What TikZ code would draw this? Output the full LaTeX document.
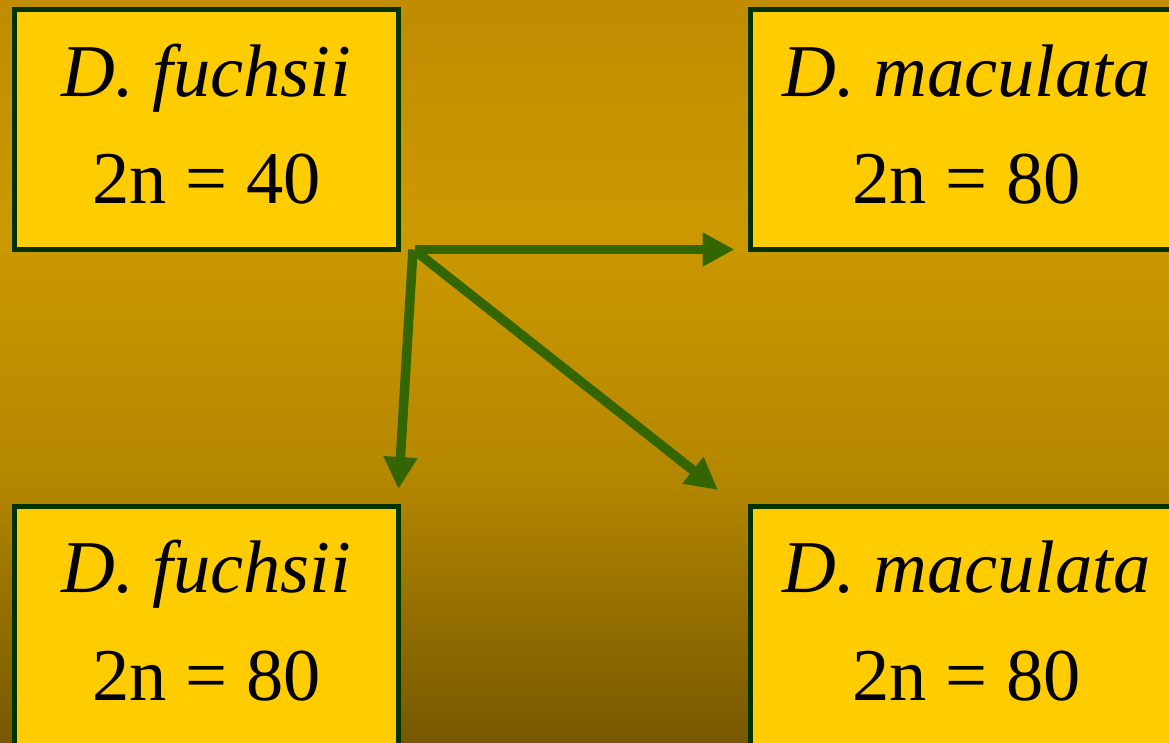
\documentclass[tikz,border=0pt]{standalone}
\usepackage{fontspec}
\setmainfont{Liberation Serif}
\usetikzlibrary{arrows.meta}
\definecolor{boxfill}{HTML}{FFCC00}
\definecolor{boxline}{HTML}{003300}
\definecolor{arrowgreen}{HTML}{336600}
\definecolor{bgtop}{HTML}{C08C00}
\definecolor{bglight}{HTML}{CC9900}
\definecolor{bgmid}{HTML}{B48700}
\definecolor{bgbottom}{HTML}{765800}
\tikzset{
  species/.style={draw=boxline, line width=5pt, fill=boxfill,
    minimum width=384pt, minimum height=240pt, inner sep=0pt, outer sep=0pt},
  widebox/.style={species, minimum width=432pt},
  lbl/.style={anchor=base, inner sep=0pt, font=\fontsize{74.5}{90}\selectfont},
  link/.style={draw=arrowgreen, line width=9.5pt,
    -{Triangle[length=32pt,width=32pt]}}
}
\begin{document}
\begin{tikzpicture}[x=1pt, y=-1pt]
  \useasboundingbox (0,0) rectangle (1169,742);
  \clip (0,0) rectangle (1169,742);
  % background gradient
  \shade[top color=bgtop, bottom color=bglight] (0,0) rectangle (1169,230);
  \shade[top color=bglight, bottom color=bgmid] (0,229.5) rectangle (1169,480);
  \shade[top color=bgmid, bottom color=bgbottom] (0,479.5) rectangle (1169,742);

  % species boxes
  \node[species] (b1) at (206.5,129.5) {};
  \node[widebox] (b2) at (966.5,129.5) {};
  \node[species] (b3) at (206.5,626.5) {};
  \node[widebox] (b4) at (966.5,626.5) {};

  % labels
  \node[lbl] (b1a) at ([yshift=-87pt]b1.north) {\textit{D. fuchsii}};
  \node[lbl] (b1b) at ([yshift=-193.5pt]b1.north) {2n = 40};
  \node[lbl] (b2a) at ([yshift=-87pt]b2.north) {\textit{D. maculata}};
  \node[lbl] (b2b) at ([yshift=-193.5pt]b2.north) {2n = 80};
  \node[lbl] (b3a) at ([yshift=-86pt]b3.north) {\textit{D. fuchsii}};
  \node[lbl] (b3b) at ([yshift=-193.5pt]b3.north) {2n = 80};
  \node[lbl] (b4a) at ([yshift=-86pt]b4.north) {\textit{D. maculata}};
  \node[lbl] (b4b) at ([yshift=-193.5pt]b4.north) {2n = 80};

  % arrows out of the parent species
  \coordinate (fork) at ([xshift=16pt]b1.south east);
  \draw[link] (fork) -- ([xshift=-16pt]b2.south west);
  \draw[link] ([xshift=-1.5pt]fork) -- ([yshift=17.5pt]b3.north east);
  \draw[link] ([xshift=1.5pt,yshift=-2pt]fork) -- ([xshift=-32.5pt,yshift=16.5pt]b4.north west);
\end{tikzpicture}
\end{document}
